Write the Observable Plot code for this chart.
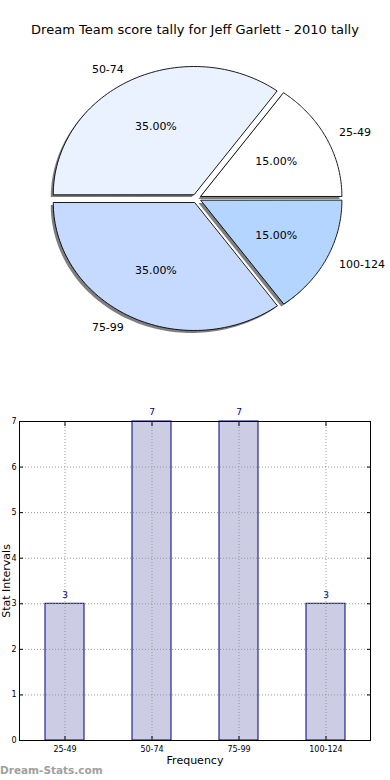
<!DOCTYPE html>
<html>
<head>
<meta charset="utf-8">
<script src="https://cdn.jsdelivr.net/npm/d3@7"></script>
<script src="https://cdn.jsdelivr.net/npm/@observablehq/plot@0.6"></script>
<style>
  html, body { margin: 0; padding: 0; background: #fff; width: 390px; height: 780px; overflow: hidden; font-family: "DejaVu Sans", sans-serif; }
  #title { height: 52px; line-height: 60px; text-align: center; font-size: 13px; color: #000; }
  #mark { position: absolute; left: 0; top: 764px; font-family: "DejaVu Sans", sans-serif; font-weight: bold; font-size: 10.5px; color: #a0a0a0; }
  svg { display: block; }
</style>
</head>
<body>
<div id="title">Dream Team score tally for Jeff Garlett - 2010 tally</div>
<div id="pie"></div>
<div id="bar"></div>
<div id="mark">Dream-Stats.com</div>
<script>
const categories = ["25-49", "50-74", "75-99", "100-124"];
const counts = [3, 7, 7, 3];
const pieColors = ["#ffffff", "#ebf2ff", "#c6d9ff", "#b3d5ff"];
const yTicks = [0, 1, 2, 3, 4, 5, 6, 7];

const total = d3.sum(counts);
const explode = 0.035;

// wedge geometry from data (unit circle, matplotlib style: counterclockwise from east)
const wedges = [];
let acc = 0;
categories.forEach((cat, i) => {
  const a0 = acc / total * 2 * Math.PI;
  acc += counts[i];
  const a1 = acc / total * 2 * Math.PI;
  const mid = (a0 + a1) / 2;
  const ox = explode * Math.cos(mid), oy = explode * Math.sin(mid);
  const pts = [{x: ox, y: oy}];
  const N = 80;
  for (let k = 0; k <= N; k++) {
    const t = a0 + (a1 - a0) * k / N;
    pts.push({x: ox + Math.cos(t), y: oy + Math.sin(t)});
  }
  wedges.push({
    cat, color: pieColors[i], pts, mid, ox, oy,
    pct: (counts[i] / total * 100).toFixed(2) + "%"
  });
});

const labelData = wedges.map(w => ({
  x: w.ox + 1.1 * Math.cos(w.mid),
  y: w.oy + 1.1 * Math.sin(w.mid),
  text: w.cat,
  side: Math.cos(w.mid) >= 0 ? "start" : "end"
}));
const pctData = wedges.map(w => ({
  x: w.ox + 0.6 * Math.cos(w.mid),
  y: w.oy + 0.6 * Math.sin(w.mid),
  text: w.pct
}));

const pieMarks = [];
wedges.forEach(w => {
  pieMarks.push(Plot.line(w.pts, {x: "x", y: "y", curve: "linear-closed", fill: "#000", fillOpacity: 0.5, stroke: "none", dx: -2.5, dy: 2.5}));
});
wedges.forEach(w => {
  pieMarks.push(Plot.line(w.pts, {x: "x", y: "y", curve: "linear-closed", fill: w.color, stroke: "#000", strokeWidth: 0.9}));
});
pieMarks.push(Plot.text(labelData.filter(d => d.side === "start"), {x: "x", y: "y", text: "text", textAnchor: "start", fontSize: 11, fill: "#000"}));
pieMarks.push(Plot.text(labelData.filter(d => d.side === "end"), {x: "x", y: "y", text: "text", textAnchor: "end", fontSize: 11, fill: "#000"}));
pieMarks.push(Plot.text(pctData, {x: "x", y: "y", text: "text", fontSize: 11, fill: "#000"}));

const pie = Plot.plot({
  width: 390, height: 340,
  style: {fontFamily: "DejaVu Sans, sans-serif", background: "transparent"},
  x: {domain: [-1, 1], range: [55, 337], axis: null},
  y: {domain: [-1, 1], range: [274, 18], axis: null},
  marks: pieMarks
});
document.getElementById("pie").appendChild(pie);

const barData = categories.map((c, i) => ({cat: c, value: counts[i]}));

const bar = Plot.plot({
  width: 390, height: 388,
  marginTop: 29, marginBottom: 40, marginLeft: 19, marginRight: 20,
  style: {fontFamily: "DejaVu Sans, sans-serif", background: "transparent"},
  x: {domain: categories, paddingInner: 0.555, paddingOuter: 0.2775},
  y: {domain: [0, 7]},
  marks: [
    Plot.barY(barData, {x: "cat", y: "value", fill: "#cccce4", stroke: "#000080", strokeWidth: 1}),
    Plot.gridX({stroke: "#999", strokeOpacity: 1, strokeDasharray: "1,2"}),
    Plot.gridY(yTicks, {stroke: "#999", strokeOpacity: 1, strokeDasharray: "1,2"}),
    Plot.frame({stroke: "#000"}),
    Plot.text(barData, {x: "cat", y: "value", text: d => String(d.value), dy: -9, fill: "#000080", fontSize: 9}),
    Plot.axisX({tickSize: 0, tickPadding: 6, fontSize: 8, label: null}),
    Plot.axisX({anchor: "bottom", tickSize: -4, tickFormat: () => "", label: "Frequency", labelArrow: false, labelAnchor: "center", labelOffset: 23, fontSize: 11}),
    Plot.axisX({anchor: "top", tickSize: -4, tickFormat: () => "", label: null}),
    Plot.axisY(yTicks, {tickSize: 0, tickPadding: 3, fontSize: 8, label: null}),
    Plot.axisY(yTicks, {anchor: "left", tickSize: -4, tickFormat: () => "", label: "Stat Intervals", labelArrow: false, labelAnchor: "center", labelOffset: 17.5, fontSize: 11}),
    Plot.axisY(yTicks, {anchor: "right", tickSize: -4, tickFormat: () => "", label: null})
  ]
});
document.getElementById("bar").appendChild(bar);
</script>
</body>
</html>
